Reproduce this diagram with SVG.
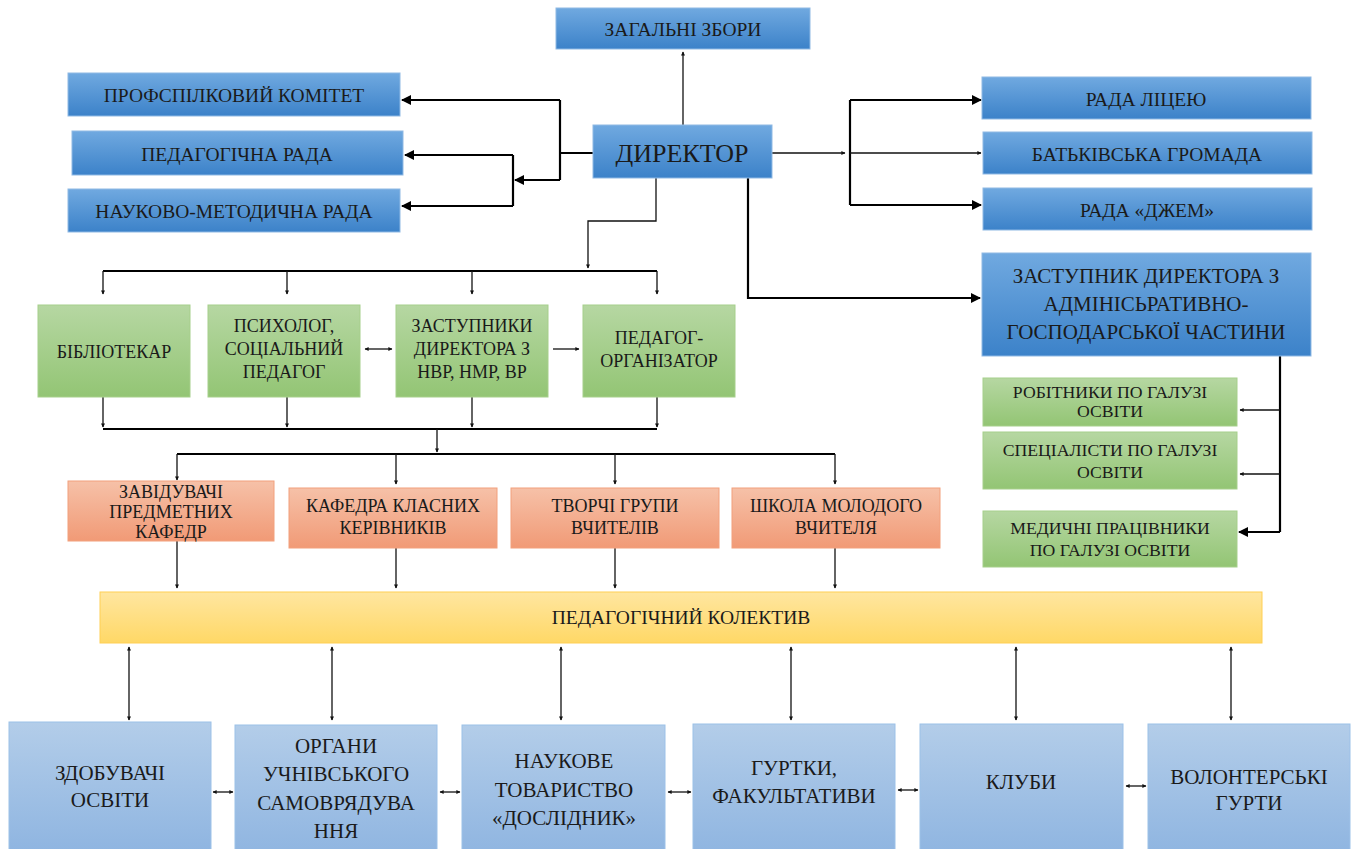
<svg xmlns="http://www.w3.org/2000/svg" width="1360" height="849" viewBox="0 0 1360 849">
<defs>
<linearGradient id="gBlue" x1="0" y1="0" x2="0" y2="1"><stop offset="0" stop-color="#70a9e0"/><stop offset="1" stop-color="#3c82c9"/></linearGradient>
<linearGradient id="gLBlue" x1="0" y1="0" x2="0" y2="1"><stop offset="0" stop-color="#b3cde9"/><stop offset="1" stop-color="#8cb3e0"/></linearGradient>
<linearGradient id="gGreen" x1="0" y1="0" x2="0" y2="1"><stop offset="0" stop-color="#b6d7a2"/><stop offset="1" stop-color="#93c574"/></linearGradient>
<linearGradient id="gOrange" x1="0" y1="0" x2="0" y2="1"><stop offset="0" stop-color="#f6c1a8"/><stop offset="1" stop-color="#f19a76"/></linearGradient>
<linearGradient id="gYellow" x1="0" y1="0" x2="0" y2="1"><stop offset="0" stop-color="#ffe6a0"/><stop offset="1" stop-color="#ffd866"/></linearGradient>
<marker id="bigL" viewBox="0 0 10 10" refX="9" refY="5" markerWidth="14" markerHeight="10" markerUnits="userSpaceOnUse" orient="auto"><path d="M0,0 L10,5 L0,10 Z" fill="#000"/></marker>
<marker id="sm" viewBox="0 0 10 10" refX="9" refY="5" markerWidth="7" markerHeight="4" markerUnits="userSpaceOnUse" orient="auto-start-reverse"><path d="M0,0 L10,5 L0,10 Z" fill="#111"/></marker>
</defs>
<style>
text{font-family:'Liberation Serif','Times New Roman',serif;fill:#1a1a1a;text-anchor:middle;dominant-baseline:central}
.b{fill:url(#gBlue);stroke:#8fb9e4;stroke-width:1}
.lb{fill:url(#gLBlue);stroke:#9cc1e8;stroke-width:1}
.g{fill:url(#gGreen);stroke:#a6cf8b;stroke-width:1}
.o{fill:url(#gOrange);stroke:#f2a07c;stroke-width:1}
.y{fill:url(#gYellow);stroke:#ffcf55;stroke-width:1}
.tb{font-size:19.5px}
.tg{font-size:18px}
.tr{font-size:17.7px}
.to{font-size:18px}
.tz{font-size:21px}
.thick{fill:none;stroke:#000;stroke-width:2.2}
.thin{fill:none;stroke:#111;stroke-width:1.3}
</style>

<g id="connectors">
<path class="thin" d="M683,125 V52" marker-end="url(#sm)"/>
<path class="thick" d="M593,153 H560"/>
<path class="thick" d="M560,100 V180"/>
<path class="thick" d="M560,100 H402" marker-end="url(#bigL)"/>
<path class="thick" d="M560,180 H515" marker-end="url(#bigL)"/>
<path class="thick" d="M513,155 V206"/>
<path class="thick" d="M513,155 H405" marker-end="url(#bigL)"/>
<path class="thick" d="M513,206 H402" marker-end="url(#bigL)"/>
<path class="thin" d="M772,153 H845" marker-end="url(#sm)"/>
<path class="thick" d="M850,100 V205"/>
<path class="thick" d="M850,100 H981" marker-end="url(#bigL)"/>
<path class="thick" d="M850,205 H981" marker-end="url(#bigL)"/>
<path class="thin" d="M850,153 H981" marker-end="url(#sm)"/>
<path class="thick" d="M748,178 V298 H980" marker-end="url(#bigL)"/>
<path class="thin" d="M656,178 V221 H588 V268" marker-end="url(#sm)"/>
<path class="thick" d="M103,271 H657"/>
<path class="thin" d="M103,271 V294" marker-end="url(#sm)"/>
<path class="thin" d="M287,271 V294" marker-end="url(#sm)"/>
<path class="thin" d="M472,271 V294" marker-end="url(#sm)"/>
<path class="thin" d="M657,271 V294" marker-end="url(#sm)"/>
<path class="thin" d="M365,349 H392" stroke-width="2" marker-start="url(#sm)" marker-end="url(#sm)"/>
<path class="thin" d="M553,349 H579" stroke-width="2.4" stroke="#333" marker-end="url(#sm)"/>
<path class="thin" d="M103,397 V427" marker-end="url(#sm)"/>
<path class="thin" d="M287,397 V427" marker-end="url(#sm)"/>
<path class="thin" d="M472,397 V427" marker-end="url(#sm)"/>
<path class="thin" d="M657,397 V427" marker-end="url(#sm)"/>
<path class="thick" d="M103,429 H657"/>
<path class="thin" d="M437,429 V452" marker-end="url(#sm)"/>
<path class="thick" d="M177,454 H835"/>
<path class="thin" d="M177,454 V480" marker-end="url(#sm)"/>
<path class="thin" d="M396,454 V484" marker-end="url(#sm)"/>
<path class="thin" d="M615,454 V484" marker-end="url(#sm)"/>
<path class="thin" d="M835,454 V484" marker-end="url(#sm)"/>
<path class="thin" d="M177,541 V588" marker-end="url(#sm)"/>
<path class="thin" d="M396,548 V588" marker-end="url(#sm)"/>
<path class="thin" d="M615,548 V588" marker-end="url(#sm)"/>
<path class="thin" d="M835,548 V588" marker-end="url(#sm)"/>
<path class="thin" d="M129,647 V720" marker-start="url(#sm)" marker-end="url(#sm)"/>
<path class="thin" d="M332,647 V720" marker-start="url(#sm)" marker-end="url(#sm)"/>
<path class="thin" d="M561,647 V720" marker-start="url(#sm)" marker-end="url(#sm)"/>
<path class="thin" d="M791,647 V720" marker-start="url(#sm)" marker-end="url(#sm)"/>
<path class="thin" d="M1016,647 V720" marker-start="url(#sm)" marker-end="url(#sm)"/>
<path class="thin" d="M1231,647 V720" marker-start="url(#sm)" marker-end="url(#sm)"/>
<path class="thin" d="M213,792 H233" marker-start="url(#sm)" marker-end="url(#sm)"/>
<path class="thin" d="M440,792 H460" marker-start="url(#sm)" marker-end="url(#sm)"/>
<path class="thin" d="M668,792 H691" marker-start="url(#sm)" marker-end="url(#sm)"/>
<path class="thin" d="M898,790 H918" marker-start="url(#sm)" marker-end="url(#sm)"/>
<path class="thin" d="M1126,786 H1146" stroke-width="2.2" marker-start="url(#sm)" marker-end="url(#sm)"/>
<path class="thick" d="M1280,356 V532"/>
<path class="thin" d="M1280,410 H1240" stroke-width="1.6" marker-end="url(#sm)"/>
<path class="thin" d="M1280,474 H1240" stroke-width="1.6" marker-end="url(#sm)"/>
<path class="thick" d="M1280,532 H1239" marker-end="url(#bigL)"/>
</g>

<g id="zagalni"><rect class="b" x="556" y="8" width="254" height="41"/><text class="tb" x="683" y="29">ЗАГАЛЬНІ ЗБОРИ</text></g>
<g id="dyrektor"><rect class="b" x="593" y="125" width="179" height="53"/><text x="682" y="153" style="font-size:26px">ДИРЕКТОР</text></g>
<g id="profkom"><rect class="b" x="68" y="73" width="332" height="43"/><text class="tb" x="234" y="95">ПРОФСПІЛКОВИЙ КОМІТЕТ</text></g>
<g id="pedrada"><rect class="b" x="72" y="131" width="331" height="44"/><text class="tb" x="237" y="154">ПЕДАГОГІЧНА РАДА</text></g>
<g id="nmrada"><rect class="b" x="68" y="189" width="332" height="43"/><text class="tb" x="234" y="211">НАУКОВО-МЕТОДИЧНА РАДА</text></g>
<g id="radalic"><rect class="b" x="982" y="77" width="329" height="42"/><text class="tb" x="1146" y="99">РАДА ЛІЦЕЮ</text></g>
<g id="batk"><rect class="b" x="983" y="132" width="329" height="42"/><text class="tb" x="1147" y="154">БАТЬКІВСЬКА ГРОМАДА</text></g>
<g id="dzhem"><rect class="b" x="983" y="188" width="329" height="42"/><text class="tb" x="1147" y="210">РАДА «ДЖЕМ»</text></g>
<g id="zastahch"><rect class="b" x="982" y="253" width="329" height="103"/><text class="tz" x="1146" y="276">ЗАСТУПНИК ДИРЕКТОРА З</text><text class="tz" x="1146" y="304">АДМІНІСЬРАТИВНО-</text><text class="tz" x="1146" y="332">ГОСПОДАРСЬКОЇ ЧАСТИНИ</text></g>

<g id="bibl"><rect class="g" x="38" y="305" width="152" height="92"/><text class="tg" x="114" y="352">БІБЛІОТЕКАР</text></g>
<g id="psych"><rect class="g" x="208" y="305" width="152" height="92"/><text class="tg" x="284" y="326">ПСИХОЛОГ,</text><text class="tg" x="284" y="349">СОЦІАЛЬНИЙ</text><text class="tg" x="284" y="372">ПЕДАГОГ</text></g>
<g id="zast"><rect class="g" x="396" y="305" width="152" height="92"/><text class="tg" x="472" y="326">ЗАСТУПНИКИ</text><text class="tg" x="472" y="349">ДИРЕКТОРА З</text><text class="tg" x="472" y="372">НВР, НМР, ВР</text></g>
<g id="pedorg"><rect class="g" x="583" y="305" width="152" height="92"/><text class="tg" x="659" y="338">ПЕДАГОГ-</text><text class="tg" x="659" y="361">ОРГАНІЗАТОР</text></g>

<g id="robit"><rect class="g" x="983" y="378" width="254" height="48"/><text class="tr" x="1110" y="392">РОБІТНИКИ ПО ГАЛУЗІ</text><text class="tr" x="1110" y="411">ОСВІТИ</text></g>
<g id="spec"><rect class="g" x="983" y="432" width="254" height="57"/><text class="tr" x="1110" y="450">СПЕЦІАЛІСТИ ПО ГАЛУЗІ</text><text class="tr" x="1110" y="472">ОСВІТИ</text></g>
<g id="med"><rect class="g" x="983" y="511" width="254" height="56"/><text class="tr" x="1110" y="528">МЕДИЧНІ ПРАЦІВНИКИ</text><text class="tr" x="1110" y="550">ПО ГАЛУЗІ ОСВІТИ</text></g>

<g id="zavid"><rect class="o" x="68" y="481" width="206" height="60"/><text class="to" x="171" y="492">ЗАВІДУВАЧІ</text><text class="to" x="171" y="512">ПРЕДМЕТНИХ</text><text class="to" x="171" y="532">КАФЕДР</text></g>
<g id="kafedra"><rect class="o" x="289" y="488" width="208" height="60"/><text class="to" x="393" y="506">КАФЕДРА КЛАСНИХ</text><text class="to" x="393" y="528">КЕРІВНИКІВ</text></g>
<g id="tvorchi"><rect class="o" x="511" y="488" width="208" height="60"/><text class="to" x="615" y="506">ТВОРЧІ ГРУПИ</text><text class="to" x="615" y="528">ВЧИТЕЛІВ</text></g>
<g id="shkola"><rect class="o" x="732" y="488" width="208" height="60"/><text class="to" x="836" y="506">ШКОЛА МОЛОДОГО</text><text class="to" x="836" y="528">ВЧИТЕЛЯ</text></g>

<g id="kolektyv"><rect class="y" x="100" y="592" width="1162" height="51"/><text class="tb" x="681" y="617">ПЕДАГОГІЧНИЙ КОЛЕКТИВ</text></g>

<g id="zdob"><rect class="lb" x="9" y="722" width="202" height="140"/><text class="tz" x="110" y="773">ЗДОБУВАЧІ</text><text class="tz" x="110" y="800">ОСВІТИ</text></g>
<g id="organy"><rect class="lb" x="235" y="725" width="202" height="140"/><text class="tz" x="336" y="746">ОРГАНИ</text><text class="tz" x="336" y="774">УЧНІВСЬКОГО</text><text class="tz" x="336" y="803">САМОВРЯДУВА</text><text class="tz" x="336" y="831">ННЯ</text></g>
<g id="naukove"><rect class="lb" x="462" y="725" width="203" height="140"/><text class="tz" x="564" y="761">НАУКОВЕ</text><text class="tz" x="564" y="790">ТОВАРИСТВО</text><text class="tz" x="564" y="818">«ДОСЛІДНИК»</text></g>
<g id="gurtky"><rect class="lb" x="693" y="724" width="202" height="140"/><text class="tz" x="794" y="768">ГУРТКИ,</text><text class="tz" x="794" y="796">ФАКУЛЬТАТИВИ</text></g>
<g id="kluby"><rect class="lb" x="920" y="724" width="203" height="140"/><text class="tz" x="1021" y="782">КЛУБИ</text></g>
<g id="volont"><rect class="lb" x="1148" y="724" width="202" height="140"/><text class="tz" x="1249" y="777">ВОЛОНТЕРСЬКІ</text><text class="tz" x="1249" y="803">ГУРТИ</text></g>
</svg>
